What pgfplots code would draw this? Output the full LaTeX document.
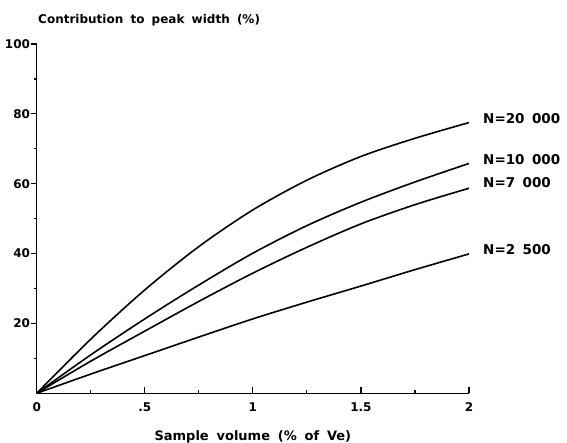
\documentclass[border=0pt]{standalone}
\usepackage{fontspec}
\setmainfont{DejaVu Sans}
\usepackage{pgfplots}
\pgfplotsset{compat=1.18}
\begin{document}
\begin{tikzpicture}
\useasboundingbox (-36.7pt,-49.7pt) rectangle (530.3pt,393.3pt);
\begin{axis}[
  at={(0,0)}, anchor=south west,
  scale only axis, width=432.3pt, height=349.3pt,
  xmin=0, xmax=2, ymin=0, ymax=100,
  axis lines=left, axis line style={-, line width=1.5pt},
  xtick={0,0.5,1,1.5,2}, xticklabels={0,.5,1,1.5,2},
  ytick={20,40,60,80,100},
  minor xtick={0.25,0.75,1.25,1.75},
  minor ytick={10,30,50,70,90},
  xtick align=inside, ytick align=outside,
  major tick length=6pt, minor tick length=3pt,
  tick style={line width=1.2pt, black},
  /pgf/number format/assume math mode=true,
  ticklabel style={font=\fontsize{12}{12}\selectfont\bfseries},
  xticklabel style={yshift=-6pt},
  yticklabel style={inner sep=0.5pt},
  clip=false,
]
\addplot[black, line width=1.6pt, smooth] coordinates {(0,0) (0.25,15.5) (0.5,29.6) (0.75,42) (1,52.5) (1.25,61) (1.5,67.8) (1.75,73) (2,77.5)};
\addplot[black, line width=1.6pt, smooth] coordinates {(0,0) (0.25,11) (0.5,21.3) (0.75,31) (1,40.1) (1.25,48) (1.5,54.7) (1.75,60.5) (2,65.8)};
\addplot[black, line width=1.6pt, smooth] coordinates {(0,0) (0.25,9.2) (0.5,17.8) (0.75,26.3) (1,34.4) (1.25,41.8) (1.5,48.5) (1.75,54) (2,58.7)};
\addplot[black, line width=1.6pt, smooth] coordinates {(0,0) (0.25,5.5) (0.5,10.8) (0.75,16.1) (1,21.3) (1.25,26.1) (1.5,30.7) (1.75,35.4) (2,39.9)};
\node[anchor=west, font=\fontsize{13.5}{14}\selectfont\bfseries, inner sep=0pt] at (axis cs:2,78.7) [xshift=14pt] {N=20\hspace{0.55em}000};
\node[anchor=west, font=\fontsize{13.5}{14}\selectfont\bfseries, inner sep=0pt] at (axis cs:2,67) [xshift=14pt] {N=10\hspace{0.55em}000};
\node[anchor=west, font=\fontsize{13.5}{14}\selectfont\bfseries, inner sep=0pt] at (axis cs:2,60.3) [xshift=14pt] {N=7\hspace{0.55em}000};
\node[anchor=west, font=\fontsize{13.5}{14}\selectfont\bfseries, inner sep=0pt] at (axis cs:2,41.2) [xshift=14pt] {N=2\hspace{0.55em}500};
\node[anchor=base west, font=\fontsize{12}{12}\selectfont\bfseries, inner sep=0pt] at (axis cs:0,100) [xshift=1.3pt, yshift=20pt] {Contribution\hspace{0.6em}to\hspace{0.6em}peak\hspace{0.6em}width\hspace{0.6em}(\%)};
\node[anchor=center, font=\fontsize{13}{13}\selectfont\bfseries, inner sep=0pt] at (axis cs:1,0) [yshift=-43.5pt] {Sample\hspace{0.6em}volume\hspace{0.6em}(\%\hspace{0.6em}of\hspace{0.6em}Ve)};
\end{axis}
\end{tikzpicture}
\end{document}
